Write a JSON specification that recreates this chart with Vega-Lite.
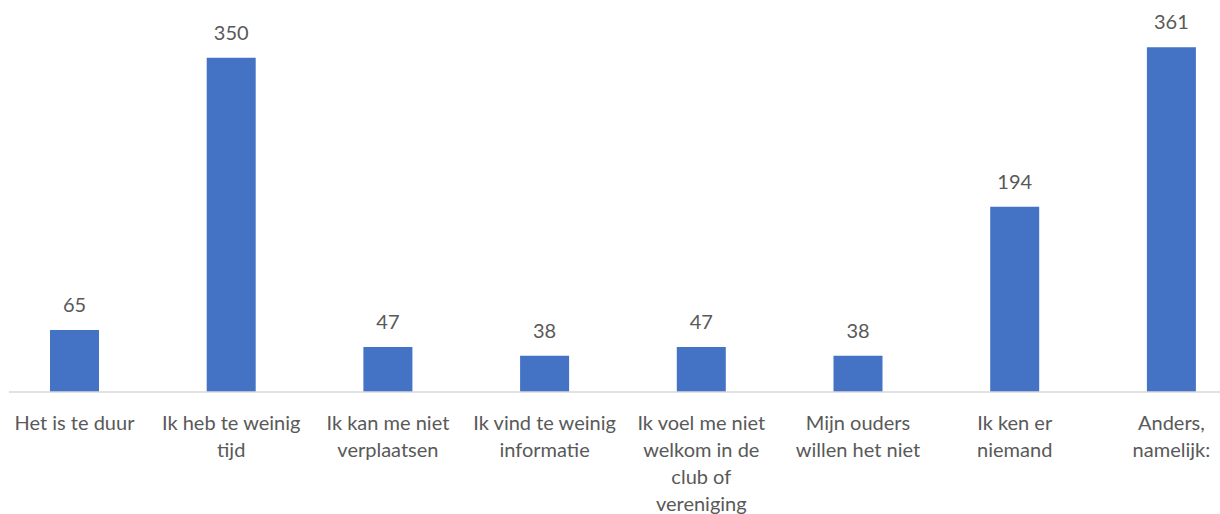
{
  "$schema": "https://vega.github.io/schema/vega-lite/v6.json",
  "width": 1211,
  "height": 382,
  "autosize": {"type": "none"},
  "padding": {"left": 9, "top": 10, "right": 0, "bottom": 122},
  "background": "white",
  "config": {"view": {"stroke": null}},
  "data": {
    "values": [
      {"reden": "Het is te duur", "aantal": 65},
      {"reden": "Ik heb te weinig tijd", "aantal": 350},
      {"reden": "Ik kan me niet verplaatsen", "aantal": 47},
      {"reden": "Ik vind te weinig informatie", "aantal": 38},
      {"reden": "Ik voel me niet welkom in de club of vereniging", "aantal": 47},
      {"reden": "Mijn ouders willen het niet", "aantal": 38},
      {"reden": "Ik ken er niemand", "aantal": 194},
      {"reden": "Anders, namelijk:", "aantal": 361}
    ]
  },
  "encoding": {
    "x": {
      "field": "reden",
      "type": "nominal",
      "sort": null,
      "scale": {"type": "band", "range": [-37.35, 1265.25], "paddingInner": 0.6873, "paddingOuter": 0.5},
      "axis": {
        "title": null,
        "domain": false,
        "ticks": false,
        "tickSize": 0,
        "labelAngle": 0,
        "labelPadding": 37,
        "labelBaseline": "alphabetic",
        "labelFont": "Lato",
        "labelFontSize": 20,
        "labelColor": "#595959",
        "labelLineHeight": 27,
        "labelLimit": 0,
        "labelOverlap": false,
        "labelExpr": "{'Het is te duur': ['Het is te duur'], 'Ik heb te weinig tijd': ['Ik heb te weinig', 'tijd'], 'Ik kan me niet verplaatsen': ['Ik kan me niet', 'verplaatsen'], 'Ik vind te weinig informatie': ['Ik vind te weinig', 'informatie'], 'Ik voel me niet welkom in de club of vereniging': ['Ik voel me niet', 'welkom in de', 'club of', 'vereniging'], 'Mijn ouders willen het niet': ['Mijn ouders', 'willen het niet'], 'Ik ken er niemand': ['Ik ken er', 'niemand'], 'Anders, namelijk:': ['Anders,', 'namelijk:']}[datum.value]"
      }
    },
    "y": {
      "field": "aantal",
      "type": "quantitative",
      "scale": {"domain": [0, 400], "nice": false},
      "axis": null
    }
  },
  "layer": [
    {"mark": {"type": "bar", "color": "#4472C4"}},
    {
      "mark": {"type": "text", "baseline": "alphabetic", "dy": -18, "font": "Lato", "fontSize": 20, "color": "#595959"},
      "encoding": {"text": {"field": "aantal", "type": "quantitative"}}
    },
    {
      "data": {"values": [{"nul": 0}]},
      "mark": {"type": "rule", "color": "#D9D9D9", "strokeWidth": 1.5},
      "encoding": {"y": {"field": "nul", "type": "quantitative"}, "x": null}
    }
  ]
}
